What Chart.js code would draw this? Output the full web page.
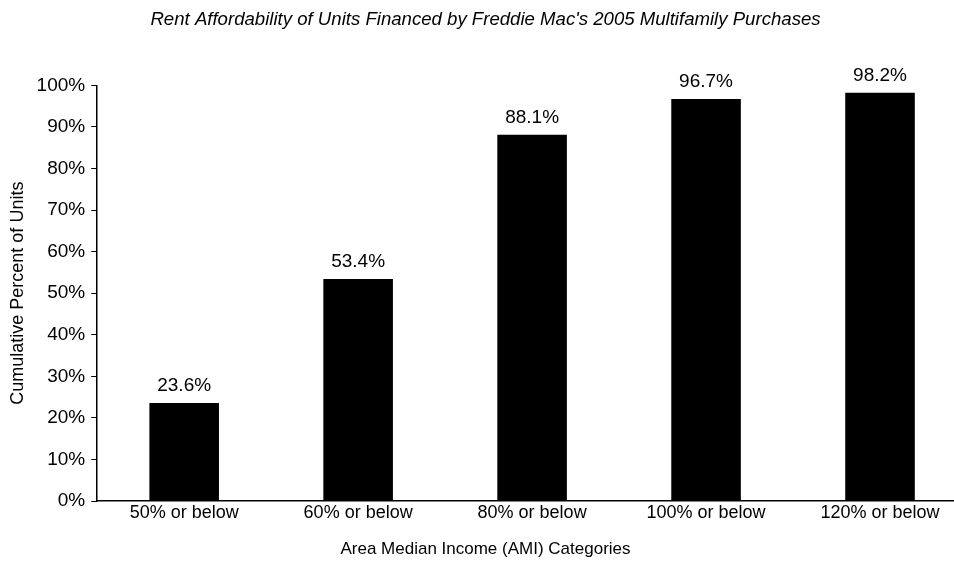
<!DOCTYPE html>
<html>
<head>
<meta charset="utf-8">
<script src="https://cdn.jsdelivr.net/npm/chart.js@4.4.0/dist/chart.umd.min.js"></script>
<style>
  body { margin: 0; background: #fff; overflow: hidden; }
  #wrap { width: 980px; height: 579px; }
</style>
</head>
<body>
<div id="wrap"><canvas id="rentChart" width="980" height="579"></canvas></div>
<script>
const categories = ['50% or below', '60% or below', '80% or below', '100% or below', '120% or below'];
const cumulativePct = [23.6, 53.4, 88.1, 96.7, 98.2];
const yTicks = [0, 10, 20, 30, 40, 50, 60, 70, 80, 90, 100];

const fontFamily = '"Liberation Sans", Arial, sans-serif';

// draws the value above each bar
const barLabels = {
  id: 'barLabels',
  afterDatasetsDraw(chart) {
    const ctx = chart.ctx;
    const meta = chart.getDatasetMeta(0);
    ctx.save();
    ctx.font = '19px ' + fontFamily;
    ctx.fillStyle = '#000';
    ctx.textAlign = 'center';
    ctx.textBaseline = 'alphabetic';
    meta.data.forEach((bar, i) => {
      ctx.fillText(cumulativePct[i].toFixed(1) + '%', bar.x, bar.y - 12);
    });
    ctx.restore();
  }
};

const ctx = document.getElementById('rentChart').getContext('2d');
new Chart(ctx, {
  type: 'bar',
  data: {
    labels: categories,
    datasets: [{
      data: cumulativePct,
      backgroundColor: '#000',
      borderWidth: 0,
      categoryPercentage: 0.4,
      barPercentage: 1
    }]
  },
  options: {
    responsive: false,
    animation: false,
    layout: { padding: { left: 4, right: 13, top: 0, bottom: 5 } },
    plugins: {
      legend: { display: false },
      tooltip: { enabled: false },
      title: {
        display: true,
        text: "Rent Affordability of Units Financed by Freddie Mac's 2005 Multifamily Purchases",
        color: '#000',
        font: { family: fontFamily, size: 18.6, style: 'italic', weight: 'normal' },
        padding: { top: 9, bottom: 54 }
      },
      subtitle: {
        display: true,
        position: 'bottom',
        text: 'Area Median Income (AMI) Categories',
        color: '#000',
        font: { family: fontFamily, size: 17, weight: 'normal' },
        padding: { top: 15, bottom: 14 }
      }
    },
    scales: {
      x: {
        grid: { display: false, drawTicks: false },
        border: { display: true, color: '#000', width: 1.5 },
        ticks: {
          color: '#000',
          padding: 1,
          font: { family: fontFamily, size: 18 }
        }
      },
      y: {
        min: 0,
        max: 100,
        afterBuildTicks: axis => { axis.ticks = yTicks.map(v => ({ value: v })); },
        grid: { drawOnChartArea: false, drawTicks: true, tickLength: 6, color: '#000' },
        border: { display: true, color: '#000', width: 1.5 },
        ticks: {
          color: '#000',
          padding: 6,
          font: { family: fontFamily, size: 19 },
          callback: v => v + '%'
        },
        title: {
          display: true,
          text: 'Cumulative Percent of Units',
          color: '#000',
          font: { family: fontFamily, size: 18 },
          padding: { top: 3, bottom: 2 }
        }
      }
    }
  },
  plugins: [barLabels]
});
</script>
</body>
</html>
